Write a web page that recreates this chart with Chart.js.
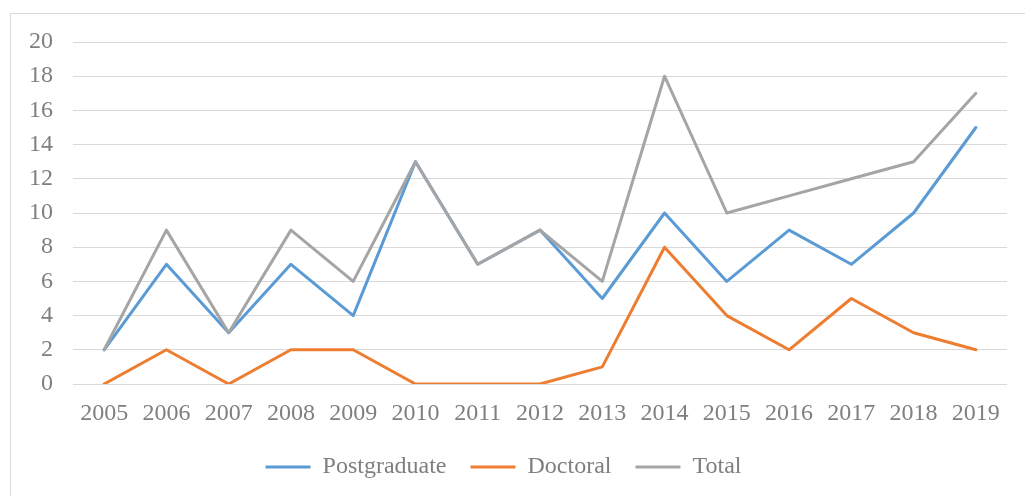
<!DOCTYPE html>
<html>
<head>
<meta charset="utf-8">
<script src="https://cdn.jsdelivr.net/npm/chart.js@4"></script>
<style>
  body { margin: 0; background: #fff; overflow: hidden; }
  #frame { position: absolute; left: 10px; top: 13px; width: 1040px; height: 520px; border: 1px solid #d9d9d9; }
  #productChart { position: absolute; left: 0; top: 0; }
</style>
</head>
<body>
<div id="frame"></div>
<canvas id="productChart" width="1025" height="496"></canvas>
<script>
const years = ['2005', '2006', '2007', '2008', '2009', '2010', '2011', '2012', '2013', '2014', '2015', '2016', '2017', '2018', '2019'];
const postgraduate = [2, 7, 3, 7, 4, 13, 7, 9, 5, 10, 6, 9, 7, 10, 15];
const doctoral = [0, 2, 0, 2, 2, 0, 0, 0, 1, 8, 4, 2, 5, 3, 2];
const total = [2, 9, 3, 9, 6, 13, 7, 9, 6, 18, 10, 11, 12, 13, 17];

const textColor = '#7f7f7f';
const gridColor = '#d9d9d9';
const serif = "'Liberation Serif', 'Times New Roman', serif";
const bottomPad = 7;
const plotBottom = 384;

function serie(label, data, color, order) {
    return {
        label: label,
        data: data,
        borderColor: color,
        backgroundColor: color,
        borderWidth: 3,
        borderJoinStyle: 'round',
        borderCapStyle: 'round',
        pointRadius: 0,
        tension: 0,
        order: order
    };
}

const ctx = document.getElementById('productChart').getContext('2d');
const chart = new Chart(ctx, {
    type: 'line',
    data: {
        labels: years,
        datasets: [
            serie('Postgraduate', postgraduate, '#5b9bd5', 3),
            serie('Doctoral', doctoral, '#ed7d31', 2),
            serie('Total', total, '#a5a5a5', 1)
        ]
    },
    options: {
        responsive: false,
        animation: false,
        devicePixelRatio: 1,
        layout: { padding: { left: 0, right: 18, top: 42, bottom: bottomPad } },
        plugins: {
            tooltip: { enabled: false },
            legend: {
                position: 'bottom',
                labels: {
                    color: textColor,
                    font: { family: serif, size: 24 },
                    boxWidth: 45,
                    boxHeight: 3,
                    padding: 24,
                    sort: (a, b) => a.datasetIndex - b.datasetIndex,
                    generateLabels: function(chart) {
                        const items = Chart.defaults.plugins.legend.labels.generateLabels(chart);
                        items.forEach(it => { it.lineWidth = 0; it.fillStyle = it.strokeStyle; });
                        return items;
                    }
                }
            }
        },
        scales: {
            x: {
                offset: true,
                grid: { display: false },
                border: { display: false },
                afterFit: function(scale) {
                    const lg = scale.chart.legend ? scale.chart.legend.height : 85;
                    scale.height = scale.chart.height - plotBottom - lg - bottomPad;
                },
                ticks: {
                    color: textColor,
                    font: { family: serif, size: 24 },
                    padding: 7,
                    maxRotation: 0,
                    autoSkip: false
                }
            },
            y: {
                min: 0,
                max: 20,
                grid: { color: gridColor, lineWidth: 1, drawTicks: false },
                border: { display: false },
                afterFit: function(scale) { scale.width = 73; },
                ticks: {
                    stepSize: 2,
                    autoSkip: false,
                    color: textColor,
                    font: { family: serif, size: 24 },
                    padding: 20
                }
            }
        }
    }
});
</script>
</body>
</html>
